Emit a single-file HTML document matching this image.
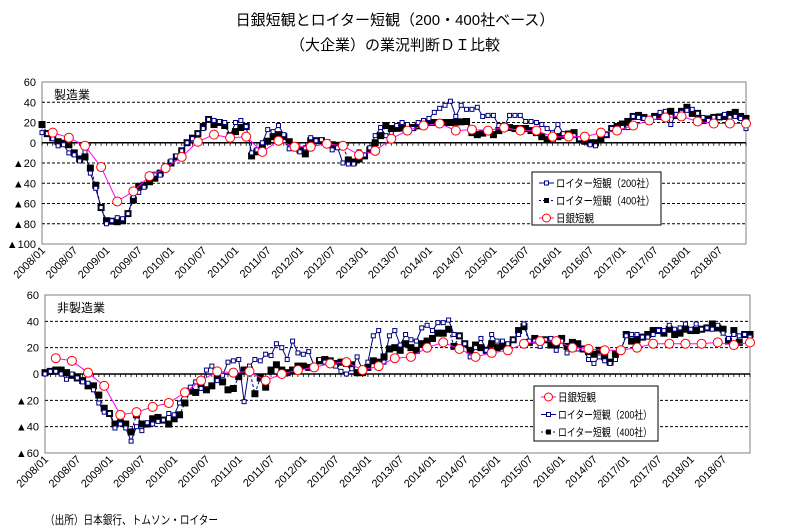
<!DOCTYPE html>
<html><head><meta charset="utf-8"><style>
body{margin:0;background:#fff;width:787px;height:532px;overflow:hidden}
svg{display:block;font-family:"Liberation Sans","Noto Sans CJK JP",sans-serif}
</style></head><body>
<svg id="s" width="787" height="532" xmlns="http://www.w3.org/2000/svg">
<text x="395" y="25" text-anchor="middle" font-size="15">日銀短観とロイター短観（200・400社ベース）</text>
<text x="395" y="50" text-anchor="middle" font-size="15">（大企業）の業況判断ＤＩ比較</text>
<text x="45" y="524" font-size="12" textLength="173" lengthAdjust="spacingAndGlyphs">（出所）日本銀行、トムソン・ロイター</text>
</svg>
<script>
const NS="http://www.w3.org/2000/svg",S=document.getElementById('s');
function el(t,a,txt){const e=document.createElementNS(NS,t);for(const k in a)e.setAttribute(k,a[k]);if(txt!=null)e.textContent=txt;S.appendChild(e);return e;}
function interp(keys){const ks=Object.keys(keys).map(Number).sort((a,b)=>a-b);const out=[];for(let m=0;m<=131;m++){if(keys[m]!=null){out.push(keys[m]);continue;}let a=ks.filter(k=>k<m).pop(),b=ks.find(k=>k>m);if(a==null)out.push(keys[b]);else if(b==null)out.push(keys[a]);else out.push(keys[a]+(keys[b]-keys[a])*(m-a)/(b-a));}return out;}
function chart(o){
 const X=m=>o.x0+(o.x1-o.x0)*m/131, Y=v=>o.y0+(o.ymax-v)*(o.y1-o.y0)/(o.ymax-o.ymin);
 el('rect',{x:o.x0,y:o.y0,width:o.x1-o.x0,height:o.y1-o.y0,fill:'none',stroke:'#808080','stroke-width':1});
 for(let v=o.ymin;v<=o.ymax;v+=20){
  if(v!==o.ymin&&v!==o.ymax&&v!==0) el('line',{x1:o.x0,x2:o.x1,y1:Y(v),y2:Y(v),stroke:'#000','stroke-dasharray':'3,2','stroke-width':1});
  el('text',{x:o.x0-6,y:Y(v)+4,'text-anchor':'end','font-size':11},v<0?'▲'+(-v):String(v));
 }
 el('line',{x1:o.x0,x2:o.x1,y1:Y(0),y2:Y(0),stroke:'#000','stroke-width':1.5});
 for(let m=0;m<=131;m++)el('line',{x1:X(m),x2:X(m),y1:Y(0),y2:Y(0)+3,stroke:'#000','stroke-width':0.8});
 const labs=['2008/01','2008/07','2009/01','2009/07','2010/01','2010/07','2011/01','2011/07','2012/01','2012/07','2013/01','2013/07','2014/01','2014/07','2015/01','2015/07','2016/01','2016/07','2017/01','2017/07','2018/01','2018/07'];
 if(o.alt)labs[17]='2014/07';
 labs.forEach((l,i)=>{const x=X(i*6)+4,y=o.y1+7;el('text',{x:x,y:y,'text-anchor':'end','font-size':11,transform:`rotate(-45 ${x} ${y})`},l);});
 el('text',{x:o.x0+12,y:o.y0+17,'font-size':12},o.title);
 const line=(vals,step,start,col,dash)=>{let p=[];for(let i=0;i<vals.length;i++)p.push(X(start+i*step).toFixed(1)+','+Y(vals[i]).toFixed(1));el('polyline',{points:p.join(' '),fill:'none',stroke:col,'stroke-width':1,'stroke-dasharray':dash||''});};
 const b=interp(o.black),u=interp(o.blue);
 line(u,1,0,'#000080');line(b,1,0,'#000080','3,2');
 b.forEach((v,i)=>el('rect',{x:X(i)-3.5,y:Y(v)-3.5,width:7,height:7,fill:'#000'}));
 u.forEach((v,i)=>el('rect',{x:X(i)-2,y:Y(v)-2,width:4,height:4,fill:'#fff',stroke:'#000080','stroke-width':1}));
 line(o.boj,3,2,'#ff00ff');
 o.boj.forEach((v,i)=>el('circle',{cx:X(2+3*i),cy:Y(v),r:4.5,fill:'#fff',stroke:'#ff0000','stroke-width':1}));
 const L=o.leg;el('rect',{x:L.x,y:L.y,width:L.w,height:L.h,fill:'#fff',stroke:'#000','stroke-width':1});
 L.items.forEach((it,i)=>{const yy=L.y+11+i*17.5;const x1=L.x+7,x2=L.x+22,xm=L.x+14.5;
  if(it=='boj'){el('line',{x1:x1,x2:x2,y1:yy,y2:yy,stroke:'#ff00ff'});el('circle',{cx:xm,cy:yy,r:4,fill:'#fff',stroke:'#f00'});el('text',{x:L.x+24,y:yy+4,'font-size':11,textLength:38,lengthAdjust:'spacingAndGlyphs'},'日銀短観');}
  else if(it=='200'){el('line',{x1:x1,x2:x2,y1:yy,y2:yy,stroke:'#000080'});el('rect',{x:xm-2,y:yy-2,width:4,height:4,fill:'#fff',stroke:'#000080'});el('text',{x:L.x+24,y:yy+4,'font-size':11,textLength:L.w-30,lengthAdjust:'spacingAndGlyphs'},'ロイター短観（200社）');}
  else{el('line',{x1:x1,x2:x2,y1:yy,y2:yy,stroke:'#000080','stroke-dasharray':'2,2'});el('rect',{x:xm-2.5,y:yy-2.5,width:5,height:5,fill:'#000'});el('text',{x:L.x+24,y:yy+4,'font-size':11,textLength:L.w-30,lengthAdjust:'spacingAndGlyphs'},'ロイター短観（400社）');}
 });
}
chart({x0:42,x1:746,y0:82,y1:244,ymin:-100,ymax:60,title:'製造業',
 black:{0:18,1:9,3:1,5:-2,6:-10,7:-16,8:-14,9:-25,10:-42,11:-64,12:-77,14:-78,15:-77,16:-70,18:-43,19:-42,21:-35,24:-20,26:-8,27:0,29:9,31:23,32:18,33:20,34:17,35:7,37:15,38:16,39:-13,40:-9,41:-3,43:6,44:8,45:6,46:1,49:-11,50:2,52:2,54:-2,56:-3,57:-17,58:-19,60:-13,61:-7,63:7,64:17,65:14,69:15,72:20,75:20,76:20,79:21,80:10,81:8,83:11,84:8,86:16,88:14,90:14,92:10,93:6,94:3,96:6,99:10,100:3,102:0,103:0,105:8,106:14,107:16,109:21,110:26,111:27,113:23,114:26,116:26,117:31,118:27,120:35,121:29,122:29,123:22,125:25,127:26,129:30,130:26,131:24},
 blue:{0:10,1:9,2:4,3:-3,4:-2,5:-10,6:-12,7:-18,8:-9,9:-30,10:-45,11:-64,12:-80,13:-77,14:-74,15:-75,16:-70,17:-53,18:-49,19:-44,20:-35,21:-31,22:-32,23:-24,24:-18,25:-13,26:-8,27:0,28:4,29:9,30:14,31:23,32:22,33:21,34:20,35:7,36:20,37:22,38:16,39:-10,40:-7,41:0,42:13,43:11,44:17,45:8,46:-6,47:-5,48:-9,49:-5,50:5,51:2,52:3,53:-2,54:-7,55:-5,56:-20,57:-21,58:-21,59:-9,60:-12,61:-5,62:7,63:15,64:7,65:9,66:17,67:20,68:18,69:14,70:20,71:22,72:24,73:30,74:34,75:37,76:41,77:26,78:37,79:33,80:33,81:35,82:26,83:27,84:27,85:17,86:16,87:27,88:27,89:27,90:21,91:21,92:20,93:18,94:14,95:10,96:18,97:9,98:8,99:7,100:4,101:5,102:-2,103:-3,104:8,105:8,106:14,107:12,108:15,109:15,110:26,111:25,112:24,113:20,114:25,115:30,116:31,117:18,118:28,119:30,120:32,121:33,122:29,123:25,124:22,125:25,126:25,127:28,128:25,129:26,130:24,131:14},
 boj:[10,5,-3,-24,-58,-48,-33,-25,-14,1,8,5,6,-9,2,-4,-4,-1,-3,-12,-8,4,12,17,19,12,13,12,15,12,12,6,6,6,10,12,17,22,25,26,21,19,19,19],
 leg:{x:532,y:172,w:129,h:53,items:['200','400','boj']}});
chart({x0:45,x1:750,y0:295,y1:453,ymin:-60,ymax:60,title:'非製造業',alt:true,
 black:{0:1,1:2,2:3,3:3,4:1,5:-1,6:-3,7:-5,8:-9,9:-9,10:-16,11:-26,12:-30,13:-38,14:-37,15:-38,16:-44,17:-31,18:-38,19:-38,20:-34,21:-33,22:-35,23:-38,24:-34,25:-31,26:-22,27:-13,28:-14,29:-8,30:-12,31:-9,32:-3,33:-6,34:-12,35:-11,36:-2,37:3,38:3,39:-15,40:-3,41:-10,42:3,43:7,44:3,45:1,46:3,47:6,48:6,49:5,50:5,51:10,52:11,53:10,54:8,55:9,56:8,57:7,58:1,59:1,60:5,61:10,62:9,63:13,64:19,65:20,66:18,67:23,68:20,69:18,70:23,71:25,72:27,73:31,74:31,75:34,76:21,77:29,78:23,79:18,80:22,81:20,82:18,83:23,84:20,85:21,86:22,87:26,88:33,89:36,90:24,91:27,92:25,93:26,94:22,95:22,96:27,97:21,98:24,99:23,100:19,101:17,102:15,103:18,104:13,105:9,106:15,107:18,108:30,109:25,110:26,111:28,112:30,113:33,114:33,115:31,116:34,117:30,118:31,119:34,120:33,121:33,122:34,123:35,124:38,125:35,126:34,127:25,128:33,129:24,130:30,131:30},
 blue:{0:0,1:2,2:2,3:0,4:-4,5:0,6:-3,7:-6,8:-7,9:-12,10:-22,11:-29,12:-30,13:-41,14:-38,15:-41,16:-51,17:-40,18:-43,19:-37,20:-38,21:-36,22:-35,23:-30,24:-31,25:-22,26:-13,27:-10,28:-6,29:-11,30:3,31:6,32:-5,33:-1,34:9,35:10,36:11,37:-21,38:6,39:11,40:10,41:15,42:14,43:23,44:20,45:11,46:25,47:16,48:15,49:17,50:6,51:11,52:9,53:8,54:6,55:2,56:0,57:4,58:13,59:3,60:9,61:29,62:33,63:9,64:29,65:33,66:22,67:30,68:26,69:25,70:35,71:37,72:33,73:39,74:39,75:41,76:30,77:29,78:23,79:13,80:20,81:27,82:18,83:30,84:25,85:25,86:23,87:26,88:30,89:38,90:25,91:25,92:21,93:26,94:27,95:18,96:25,97:16,98:22,99:19,100:19,101:11,102:8,103:13,104:10,105:8,106:11,107:18,108:29,109:30,110:30,111:28,112:28,113:30,114:33,115:33,116:37,117:34,118:35,119:38,120:34,121:38,122:34,123:35,124:34,125:37,126:31,127:27,128:30,129:29,130:30,131:28},
 boj:[12,10,1,-9,-31,-29,-25,-22,-14,-5,2,1,2,-5,0,3,5,8,9,3,6,12,13,20,24,19,13,16,18,23,25,25,20,19,18,18,20,23,23,23,23,24,22,24],
 leg:{x:534,y:386,w:124,h:55,items:['boj','200','400']}});
</script>
</body></html>
